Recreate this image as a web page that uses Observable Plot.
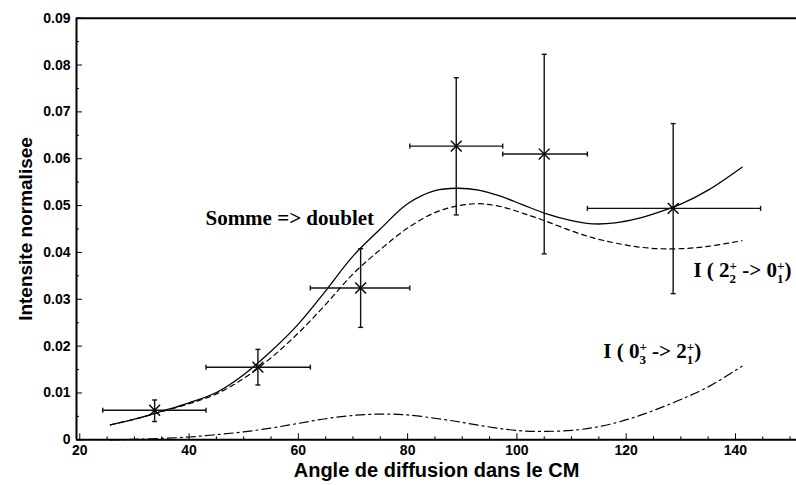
<!DOCTYPE html>
<html>
<head>
<meta charset="utf-8">
<script src="https://cdn.jsdelivr.net/npm/d3@7"></script>
<script src="https://cdn.jsdelivr.net/npm/@observablehq/plot@0.6"></script>
<style>
  html, body { margin: 0; padding: 0; background: #fff; }
  #chart svg { display: block; }
  #chart svg text { font-weight: bold; }
</style>
</head>
<body>
<div id="chart"></div>
<script>
// ---- data ----
const xDomain = [19.4, 151.17];
const yDomain = [0, 0.09];
const xMajorTicks = [20, 40, 60, 80, 100, 120, 140];
const xMinorTicks = [25, 30, 35, 45, 50, 55, 65, 70, 75, 85, 90, 95, 105, 110, 115, 125, 130, 135, 145, 150];
const yMajorTicks = [0, 0.01, 0.02, 0.03, 0.04, 0.05, 0.06, 0.07, 0.08, 0.09];
const yMinorTicks = [0.005, 0.015, 0.025, 0.035, 0.045, 0.055, 0.065, 0.075, 0.085];

// experimental points
const angle   = [33.7, 52.6, 71.4, 88.9, 105.0, 128.6];
const intens  = [0.0063, 0.0155, 0.0324, 0.0627, 0.0610, 0.0494];
const angleLo = [24.2, 43.1, 62.2, 80.4, 97.4, 112.9];
const angleHi = [43.1, 62.2, 80.4, 97.4, 112.9, 144.6];
const intLo   = [0.0039, 0.0117, 0.0240, 0.0480, 0.0397, 0.0312];
const intHi   = [0.0085, 0.0193, 0.0408, 0.0773, 0.0823, 0.0675];

// calculated curves
const curveX  = [25.6, 30, 35, 40, 45, 50, 55, 60, 65, 70, 75, 80, 85, 89, 93, 97, 101, 105, 110, 114, 118, 122, 126, 130, 135, 141.2];
const sommeY  = [0.0032, 0.0044, 0.0061, 0.0079, 0.0101, 0.0139, 0.0189, 0.0247, 0.0318, 0.0392, 0.0450, 0.0504, 0.0532, 0.0537, 0.0533, 0.0520, 0.0502, 0.0484, 0.0468, 0.0461, 0.0463, 0.0472, 0.0486, 0.0503, 0.0533, 0.0582];
const i2201Y  = [0.0032, 0.0044, 0.0060, 0.0077, 0.0098, 0.0131, 0.0175, 0.0228, 0.0289, 0.0354, 0.0406, 0.0452, 0.0485, 0.0499, 0.0504, 0.0498, 0.0484, 0.0468, 0.0446, 0.0431, 0.0420, 0.0412, 0.0408, 0.0408, 0.0413, 0.0425];
const i0321Y  = [0.0000, 0.0001, 0.0003, 0.0006, 0.0011, 0.0017, 0.0025, 0.0035, 0.0045, 0.0052, 0.0055, 0.0053, 0.0046, 0.0039, 0.0031, 0.0024, 0.0019, 0.0018, 0.0020, 0.0026, 0.0036, 0.0050, 0.0067, 0.0086, 0.0113, 0.0157];

// annotations
const labelText = ["Somme => doublet", "I ( 2\u2082\u207A -> 0\u2081\u207A)", "I ( 0\u2083\u207A -> 2\u2081\u207A)"];
const labelX = [43.0, 132.3, 115.8];
const labelY = [0.0458, 0.0347, 0.0174];

const xTitle = "Angle de diffusion dans le CM";
const yTitle = "Intensite normalisee";

// ---- helpers ----
const idx = angle.map((_, i) => i);
const cidx = curveX.map((_, i) => i);
const lidx = labelText.map((_, i) => i);
const capV = {draw(ctx, size) { const r = Math.sqrt(size / Math.PI); ctx.moveTo(0, -r); ctx.lineTo(0, r); }};
const capH = {draw(ctx, size) { const r = Math.sqrt(size / Math.PI); ctx.moveTo(-r, 0); ctx.lineTo(r, 0); }};

const W = 796, H = 485;
const mL = 76, mR = 0, mT = 17.7, mB = 45.7;
const plotW = W - mL - mR, plotH = H - mT - mB;
const sans = "'Liberation Sans', Arial, Helvetica, sans-serif";
const serif = "'Liberation Serif', 'Times New Roman', serif";

const chart = Plot.plot({
  width: W, height: H,
  marginLeft: mL, marginRight: mR, marginTop: mT, marginBottom: mB,
  style: {fontFamily: sans, fontWeight: "bold", fontSize: "14px", background: "#fff", color: "#000", overflow: "visible"},
  x: {domain: xDomain, ticks: xMajorTicks, tickSize: 0, tickPadding: 5, label: null},
  y: {domain: yDomain, ticks: yMajorTicks, tickSize: 0, tickPadding: 6, label: null,
      tickFormat: d => d === 0 ? "0" : d.toFixed(2)},
  marks: [
    // inward ticks
    Plot.tickX(xMajorTicks, {x: d => d, insetTop: plotH - 6, stroke: "#000"}),
    Plot.tickX(xMinorTicks, {x: d => d, insetTop: plotH - 3, stroke: "#000"}),
    Plot.tickY(yMajorTicks, {y: d => d, insetRight: plotW - 6, stroke: "#000"}),
    Plot.tickY(yMinorTicks, {y: d => d, insetRight: plotW - 3, stroke: "#000"}),
    // frame
    Plot.ruleX([xDomain[0]], {strokeWidth: 2}),
    Plot.ruleY([yDomain[0], yDomain[1]], {strokeWidth: 2}),
    // curves
    Plot.line(cidx, {x: i => curveX[i], y: i => sommeY[i], curve: "catmull-rom", stroke: "#000", strokeWidth: 1.3}),
    Plot.line(cidx, {x: i => curveX[i], y: i => i2201Y[i], curve: "catmull-rom", stroke: "#000", strokeWidth: 1.2, strokeDasharray: "5,4"}),
    Plot.line(cidx, {x: i => curveX[i], y: i => i0321Y[i], curve: "catmull-rom", stroke: "#000", strokeWidth: 1.2, strokeDasharray: "9,4,2,4"}),
    // error bars
    Plot.link(idx, {x1: i => angleLo[i], x2: i => angleHi[i], y1: i => intens[i], y2: i => intens[i], stroke: "#111", strokeWidth: 1.4}),
    Plot.link(idx, {x1: i => angle[i], x2: i => angle[i], y1: i => intLo[i], y2: i => intHi[i], stroke: "#111", strokeWidth: 1.4}),
    Plot.dot(idx, {x: i => angleLo[i], y: i => intens[i], symbol: capV, r: 2.5, stroke: "#111", fill: "none", strokeWidth: 1.4}),
    Plot.dot(idx, {x: i => angleHi[i], y: i => intens[i], symbol: capV, r: 2.5, stroke: "#111", fill: "none", strokeWidth: 1.4}),
    Plot.dot(idx, {x: i => angle[i], y: i => intLo[i], symbol: capH, r: 2.5, stroke: "#111", fill: "none", strokeWidth: 1.4}),
    Plot.dot(idx, {x: i => angle[i], y: i => intHi[i], symbol: capH, r: 2.5, stroke: "#111", fill: "none", strokeWidth: 1.4}),
    // markers
    Plot.dot(idx, {x: i => angle[i], y: i => intens[i], symbol: "times", r: 5, stroke: "#000", strokeWidth: 1.4}),
    // annotations
    Plot.text(lidx, {x: i => labelX[i], y: i => labelY[i], text: i => labelText[i], textAnchor: "start", lineAnchor: "bottom",
      fontFamily: serif, fontWeight: "bold", fontSize: 21, fill: "#000"}),
    // axis titles
    Plot.text([xTitle], {frameAnchor: "bottom", textAnchor: "middle", dy: 23, fontSize: 20, fontFamily: sans, fontWeight: "bold", fill: "#000", lineAnchor: "top"}),
    Plot.text([yTitle], {frameAnchor: "left", textAnchor: "middle", dx: -51, rotate: -90, fontSize: 19, fontFamily: sans, fontWeight: "bold", fill: "#000", lineAnchor: "middle"})
  ]
});

// stacked sub/superscripts in the level labels
d3.select(chart).selectAll("text").each(function() {
  const s = this.textContent;
  if (!/[\u2080-\u2089]/.test(s)) return;
  const sel = d3.select(this);
  sel.text(null);
  const subs = "\u2080\u2081\u2082\u2083\u2084\u2085\u2086\u2087\u2088\u2089";
  let buf = "", nextDy = 0;
  const flush = () => {
    if (!buf) return;
    const t = sel.append("tspan").text(buf);
    if (nextDy) t.attr("dy", nextDy);
    buf = ""; nextDy = 0;
  };
  for (let i = 0; i < s.length; i++) {
    const k = subs.indexOf(s[i]);
    if (k >= 0) {
      flush();
      sel.append("tspan").attr("font-size", 13).attr("dy", 6).text(String(k));
      if (s[i + 1] === "\u207A") {
        sel.append("tspan").attr("font-size", 13).attr("dx", -6.5).attr("dy", -13).text("+");
        nextDy = 7; i++;
      } else nextDy = -6;
    } else buf += s[i];
  }
  flush();
});

document.getElementById("chart").appendChild(chart);
</script>
</body>
</html>
